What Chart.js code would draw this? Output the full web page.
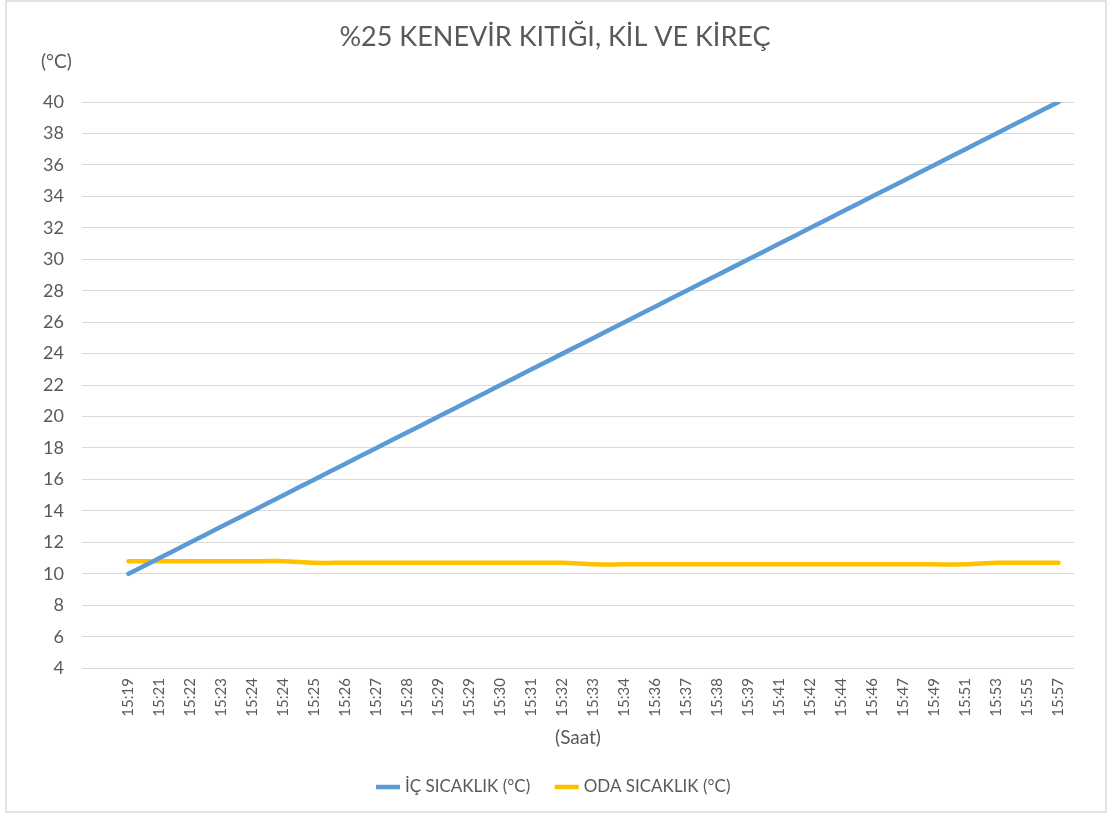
<!DOCTYPE html>
<html>
<head>
<meta charset="utf-8">
<script src="https://cdn.jsdelivr.net/npm/chart.js@4"></script>
<style>
  html, body { margin: 0; padding: 0; background: #fff; }
  #wrap { width: 1110px; height: 816px; }
</style>
</head>
<body>
<div id="wrap"><canvas id="chart" width="1110" height="816"></canvas></div>
<script>
// category labels (first one is an empty slot, as in the original)
const saat = ['', '15:19', '15:21', '15:22', '15:23', '15:24', '15:24', '15:25', '15:26', '15:27', '15:28',
  '15:29', '15:29', '15:30', '15:31', '15:32', '15:33', '15:34', '15:36', '15:37', '15:38',
  '15:39', '15:41', '15:42', '15:44', '15:46', '15:47', '15:49', '15:51', '15:53', '15:55', '15:57'];

const icSicaklik = [null, 10, 11, 12, 13, 14, 15, 16, 17, 18, 19,
  20, 21, 22, 23, 24, 25, 26, 27, 28, 29,
  30, 31, 32, 33, 34, 35, 36, 37, 38, 39, 40];

const odaSicaklik = [null, 10.8, 10.8, 10.8, 10.8, 10.8, 10.8, 10.7, 10.7, 10.7, 10.7,
  10.7, 10.7, 10.7, 10.7, 10.7, 10.6, 10.6, 10.6, 10.6, 10.6,
  10.6, 10.6, 10.6, 10.6, 10.6, 10.6, 10.6, 10.6, 10.7, 10.7, 10.7];

const yMin = 4;
const yMax = 40;
const yStep = 2;

const textColor = '#595959';
const fontFamily = 'Lato, "Open Sans", sans-serif';

// frame around the chart + the "(°C)" unit label above the y axis
const extras = {
  id: 'extras',
  beforeDraw(chart) {
    const ctx = chart.ctx;
    ctx.save();
    ctx.fillStyle = '#fff';
    ctx.fillRect(0, 0, chart.width, chart.height);
    ctx.strokeStyle = '#d9d9d9';
    ctx.lineWidth = 1.5;
    ctx.strokeRect(6, 1, chart.width - 10, chart.height - 5);
    ctx.restore();
  },
  afterDraw(chart) {
    const ctx = chart.ctx;
    const y = chart.scales.y;
    ctx.save();
    ctx.fillStyle = textColor;
    ctx.font = '19px ' + fontFamily;
    ctx.textAlign = 'left';
    ctx.textBaseline = 'middle';
    ctx.fillText('(°C)', 41, y.top - 40);
    ctx.restore();
  }
};

new Chart(document.getElementById('chart'), {
  type: 'line',
  data: {
    labels: saat,
    datasets: [
      {
        label: 'İÇ SICAKLIK (°C)',
        data: icSicaklik,
        borderColor: '#5B9BD5',
        backgroundColor: '#5B9BD5',
        borderWidth: 4.5,
        pointRadius: 0,
        tension: 0.3,
        borderCapStyle: 'round'
      },
      {
        label: 'ODA SICAKLIK (°C)',
        data: odaSicaklik,
        borderColor: '#FFC000',
        backgroundColor: '#FFC000',
        borderWidth: 4.5,
        pointRadius: 0,
        tension: 0.3,
        borderCapStyle: 'round'
      }
    ]
  },
  options: {
    responsive: false,
    animation: false,
    layout: { padding: { left: 0, right: 0, top: 0, bottom: 10.5 } },
    plugins: {
      title: {
        display: true,
        text: '%25 KENEVİR KITIĞI, KİL VE KİREÇ',
        color: textColor,
        font: { family: fontFamily, size: 27, weight: 'normal' },
        padding: { top: 20.8, bottom: 48.8 }
      },
      legend: {
        position: 'bottom',
        labels: {
          color: textColor,
          font: { family: fontFamily, size: 17 },
          usePointStyle: true,
          pointStyle: 'line',
          boxWidth: 45,
          padding: 28
        }
      },
      tooltip: { enabled: false }
    },
    scales: {
      x: {
        offset: true,
        grid: { display: false, drawTicks: false },
        border: { display: false },
        ticks: {
          color: textColor,
          font: { family: fontFamily, size: 15 },
          minRotation: 90,
          maxRotation: 90,
          autoSkip: false,
          padding: 10
        },
        title: {
          display: true,
          text: '(Saat)',
          color: textColor,
          font: { family: fontFamily, size: 19 },
          padding: { top: 0, bottom: 1 }
        }
      },
      y: {
        min: yMin,
        max: yMax,
        grid: { color: '#d9d9d9', lineWidth: 1, drawTicks: false },
        border: { display: false },
        ticks: {
          stepSize: yStep,
          color: textColor,
          font: { family: fontFamily, size: 18 },
          padding: 18
        },
        afterFit(scale) { scale.width = 82; }
      },
      // empty spacer on the right so the plot ends where the original does
      spacer: {
        position: 'right',
        grid: { display: false },
        border: { display: false },
        ticks: { display: false },
        afterFit(scale) { scale.width = 36; }
      }
    }
  },
  plugins: [extras]
});
</script>
</body>
</html>
